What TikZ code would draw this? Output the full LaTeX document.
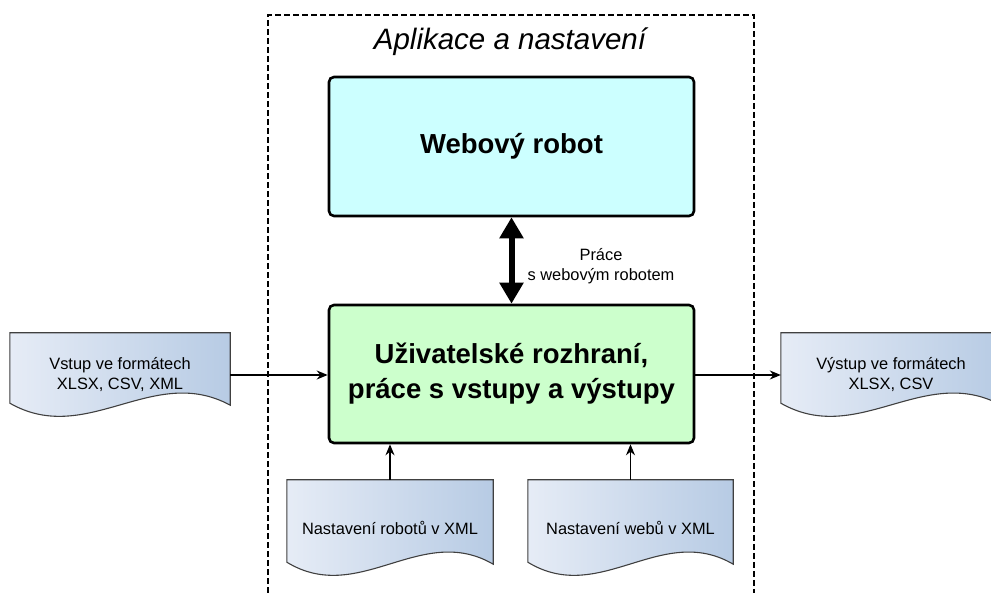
\documentclass[tikz,border=0pt]{standalone}
\usepackage{fontspec}
\setmainfont{Liberation Sans}
\usetikzlibrary{positioning, calc, arrows.meta, backgrounds}

\definecolor{robotmodra}{HTML}{CCFFFF}
\definecolor{uizelena}{HTML}{CCFFCC}
\definecolor{doksvetla}{HTML}{E6ECF6}
\definecolor{doktmava}{HTML}{B7CBE4}

% dokument s vlnitym spodkem, kresli se podle kotev uzlu
\newcommand{\dokument}[1]{%
    \shade[left color=doksvetla, right color=doktmava, draw=black!75, line width=1.1pt]
        (#1.north west) -- (#1.north east) -- ([yshift=12pt]#1.south east)
        .. controls ($(#1.south east)!0.35!(#1.south west)+(0,54pt)$)
        and ($(#1.south east)!0.65!(#1.south west)+(0,-30pt)$)
        .. ([yshift=14pt]#1.south west) -- cycle;}

\begin{document}
\begin{tikzpicture}[x=1pt, y=1pt,
        blok/.style={draw, line width=2.6pt, rounded corners=5pt, minimum width=365pt,
            align=center, font=\fontsize{27.5}{35}\selectfont\bfseries},
        dok/.style={minimum width=220pt, minimum height=84pt, inner sep=0pt,
            align=center, font=\fontsize{16.4}{20}\selectfont},
        sipka/.style={line width=1.3pt, -{Stealth[length=11pt, width=9pt]}}]
    \useasboundingbox (0,0) rectangle (991,593);

    \draw[line width=1.2pt, dash pattern=on 6pt off 3pt] (268,0) |- (754,578) -- (754,0);
    \node[font=\fontsize{29.5}{34}\selectfont\itshape] (nadpis) at (510,551) {Aplikace a nastavení};

    \node[blok, fill=robotmodra, minimum height=139pt] (robot) at (511.5,446.5) {Webový robot};
    \node[blok, fill=uizelena, minimum height=138pt] (ui) at (511.5,219)
        {Uživatelské rozhraní,\\práce s vstupy a výstupy};

    \node[dok] (vstup) at (120,218) {Vstup ve formátech\\XLSX, CSV, XML};
    \node[dok] (vystup) at (891,218) {Výstup ve formátech\\XLSX, CSV};
    \node[dok, minimum width=206pt, minimum height=96pt] (nrobot) at (390,65) {Nastavení robotů v XML};
    \node[dok, minimum width=205pt, minimum height=96pt] (nweb) at (630.5,65) {Nastavení webů v XML};

    \begin{scope}[on background layer]
        \foreach \d in {vstup, vystup, nrobot, nweb}{%
            \dokument{\d}
        }
    \end{scope}

    \draw[line width=6pt, {Triangle[length=21pt, width=23pt]}-{Triangle[length=21pt, width=23pt]}]
        (robot.south) -- (ui.north);
    \node[font=\fontsize{16.4}{20}\selectfont, align=center] (prace) at (601,327)
        {Práce\\s webovým robotem};

    \draw[sipka] (vstup.east) -- (vstup.east -| ui.west);
    \draw[sipka] (vystup.west -| ui.east) -- (vystup.west);
    \foreach \d in {nrobot, nweb}{%
        \draw[sipka] (\d.north) -- (\d.north |- ui.south);
    }
\end{tikzpicture}
\end{document}
